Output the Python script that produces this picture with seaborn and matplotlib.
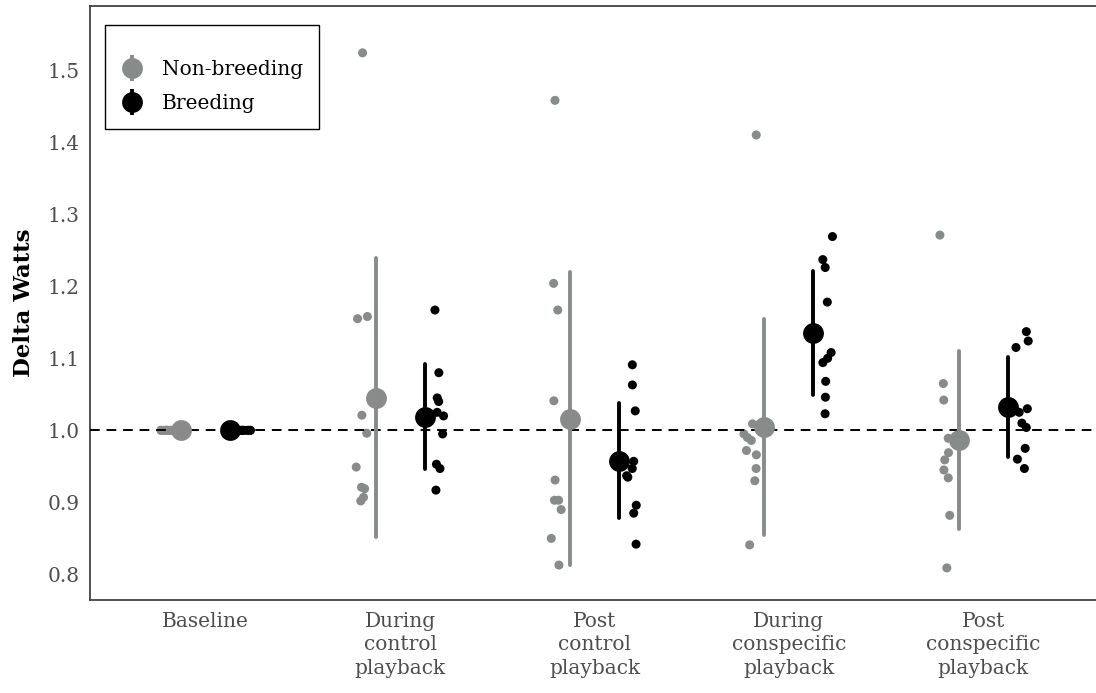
import seaborn as sns
import pandas as pd
import matplotlib.pyplot as plt
import numpy as np
from matplotlib.lines import Line2D
from matplotlib.legend_handler import HandlerTuple

# categories and tick labels
stages = ["Baseline", "During control", "Post control",
          "During conspecific", "Post conspecific"]
stage_labels = ["Baseline", "During\ncontrol\nplayback", "Post\ncontrol\nplayback",
                "During\nconspecific\nplayback", "Post\nconspecific\nplayback"]
groups = ["Non-breeding", "Breeding"]

# delta watts per individual
nonbreed_baseline = [1.000, 1.000, 1.000, 1.000, 1.000, 1.000, 1.000, 1.000, 1.000, 1.000]
nonbreed_during_control = [1.524, 1.158, 1.155, 1.021, 0.996, 0.949, 0.921, 0.919, 0.907, 0.902]
nonbreed_post_control = [1.458, 1.204, 1.167, 1.041, 0.931, 0.903, 0.903, 0.890, 0.850, 0.813]
nonbreed_during_consp = [1.410, 1.009, 0.995, 0.990, 0.986, 0.972, 0.966, 0.947, 0.930, 0.841]
nonbreed_post_consp = [1.271, 1.065, 1.042, 0.989, 0.969, 0.959, 0.945, 0.934, 0.882, 0.809]

breed_baseline = [1.000, 1.000, 1.000, 1.000, 1.000, 1.000, 1.000, 1.000, 1.000, 1.000]
breed_during_control = [1.167, 1.080, 1.045, 1.040, 1.025, 1.020, 0.995, 0.953, 0.947, 0.917]
breed_post_control = [1.091, 1.063, 1.027, 0.957, 0.947, 0.937, 0.935, 0.896, 0.885, 0.842]
breed_during_consp = [1.269, 1.237, 1.226, 1.178, 1.108, 1.100, 1.094, 1.068, 1.046, 1.023]
breed_post_consp = [1.137, 1.124, 1.115, 1.030, 1.025, 1.010, 1.004, 0.975, 0.960, 0.947]

nonbreed = [nonbreed_baseline, nonbreed_during_control, nonbreed_post_control,
            nonbreed_during_consp, nonbreed_post_consp]
breed = [breed_baseline, breed_during_control, breed_post_control,
         breed_during_consp, breed_post_consp]

rows = []
for stage, vals in zip(stages, nonbreed):
    for v in vals:
        rows.append({"stage": stage, "status": "Non-breeding", "watts": v})
for stage, vals in zip(stages, breed):
    for v in vals:
        rows.append({"stage": stage, "status": "Breeding", "watts": v})
df = pd.DataFrame(rows)

sns.set_style("white")
plt.rcParams["font.family"] = ["DejaVu Serif"]

grey = "#878b8a"
palette = {"Non-breeding": grey, "Breeding": "black"}

fig = plt.figure(figsize=(10.96, 6.93), dpi=100)
ax = fig.add_axes([90 / 1096, 93 / 693, 1010 / 1096, 594 / 693])

np.random.seed(7)
ax.axhline(1.0, color="black", linestyle=(0, (5, 3.5)), linewidth=1.4, zorder=1)

sns.stripplot(data=df, x="stage", y="watts", hue="status", order=stages,
              hue_order=groups, palette=palette, dodge=True, jitter=0.07,
              size=6.5, linewidth=0, legend=False, ax=ax, zorder=2)
sns.pointplot(data=df, x="stage", y="watts", hue="status", order=stages,
              hue_order=groups, palette=palette, dodge=0.252, errorbar="sd",
              linestyle="none", markersize=15, markeredgewidth=0,
              err_kws={"linewidth": 2.8}, legend=False, ax=ax)
for ln in ax.lines:
    ln.set_zorder(3)

ax.set_xlim(-0.595, 4.6)
ax.set_ylim(0.7645, 1.589)
yt = [0.8, 0.9, 1.0, 1.1, 1.2, 1.3, 1.4, 1.5]
ax.set_yticks(yt)
ax.set_yticklabels([f"{t:.1f}" for t in yt])
ax.set_xticks(range(len(stages)))
ax.set_xticklabels(stage_labels, linespacing=1.3)
ax.tick_params(axis="both", colors="#333333", labelcolor="#4d4d4d",
               labelsize=14.5, length=3.5, width=1, direction="out")
ax.tick_params(axis="x", pad=5)
ax.tick_params(axis="y", pad=4)
ax.set_xlabel("")
ax.set_ylabel("Delta Watts", fontsize=16.5, fontweight="bold", color="black", labelpad=9)

for side in ["left", "bottom", "top"]:
    ax.spines[side].set_color("#333333")
    ax.spines[side].set_linewidth(1.2)
ax.spines["right"].set_visible(False)

handles = []
for g in groups:
    bar = Line2D([], [], marker="|", markersize=19, markeredgewidth=2.8,
                 color=palette[g], linestyle="none")
    dot = Line2D([], [], marker="o", markersize=15, markeredgewidth=0,
                 color=palette[g], linestyle="none")
    handles.append((bar, dot))
leg = ax.legend(handles, groups, handler_map={tuple: HandlerTuple(ndivide=1)},
                loc="upper left", bbox_to_anchor=(0.015, 0.968), borderaxespad=0,
                fontsize=14.5, title=" ", title_fontsize=3,
                frameon=True, fancybox=False, framealpha=1,
                edgecolor="black", handlelength=1.1, handletextpad=0.9,
                borderpad=0.8, labelspacing=0.75)
leg.get_frame().set_linewidth(1.0)
for t in leg.get_texts():
    t.set_color("black")

fig.savefig("out.png", dpi=100)
